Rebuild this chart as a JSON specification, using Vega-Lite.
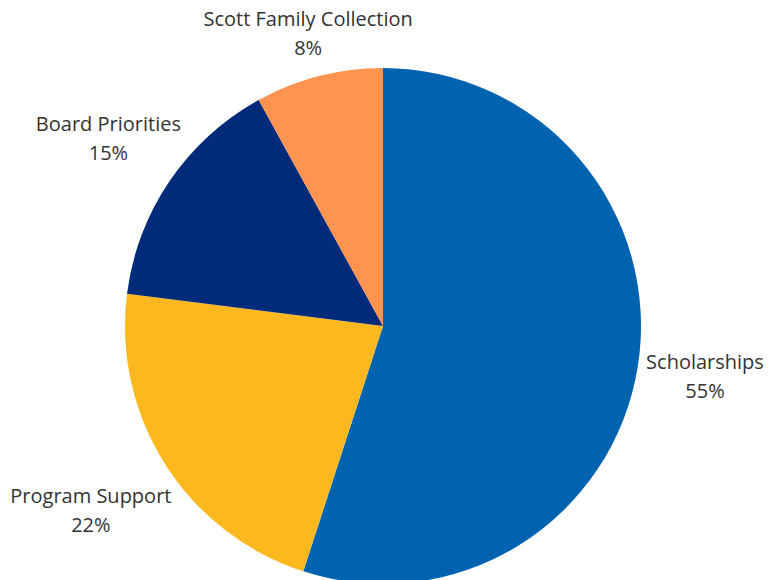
{
  "$schema": "https://vega.github.io/schema/vega-lite/v6.json",
  "width": 766,
  "height": 652,
  "autosize": {"type": "none"},
  "padding": 0,
  "background": "white",
  "view": {"stroke": null},
  "data": {
    "values": [
      {"category": "Scholarships", "value": 55, "rank": 1},
      {"category": "Program Support", "value": 22, "rank": 2},
      {"category": "Board Priorities", "value": 15, "rank": 3},
      {"category": "Scott Family Collection", "value": 8, "rank": 4}
    ]
  },
  "transform": [
    {"calculate": "datum.category + '\\n' + datum.value + '%'", "as": "label"},
    {"stack": "value", "groupby": [], "sort": [{"field": "rank", "order": "ascending"}], "as": ["v0", "v1"]},
    {"calculate": "(datum.v0 + datum.v1) / 2", "as": "vmid"}
  ],
  "layer": [
    {
      "mark": {"type": "arc", "radius": 258, "stroke": null},
      "encoding": {
        "theta": {"field": "v0", "type": "quantitative", "scale": {"domain": [0, 100]}},
        "theta2": {"field": "v1"},
        "color": {
          "field": "category",
          "type": "nominal",
          "scale": {
            "domain": ["Scholarships", "Program Support", "Board Priorities", "Scott Family Collection"],
            "range": ["#0063AF", "#FDB71F", "#002A7A", "#FF9350"]
          },
          "legend": null
        }
      }
    },
    {
      "transform": [{"filter": "datum.category === 'Scholarships'"}],
      "mark": {"type": "text", "radius": 326, "dy": -14, "font": "Open Sans", "fontSize": 20, "color": "#333333", "lineBreak": "\n", "lineHeight": 29, "align": "center", "baseline": "middle"},
      "encoding": {"theta": {"field": "vmid", "type": "quantitative", "scale": {"domain": [0, 100]}}, "text": {"field": "label", "type": "nominal"}}
    },
    {
      "transform": [{"filter": "datum.category === 'Program Support'"}],
      "mark": {"type": "text", "radius": 346, "dy": -14, "font": "Open Sans", "fontSize": 20, "color": "#333333", "lineBreak": "\n", "lineHeight": 29, "align": "center", "baseline": "middle"},
      "encoding": {"theta": {"field": "vmid", "type": "quantitative", "scale": {"domain": [0, 100]}}, "text": {"field": "label", "type": "nominal"}}
    },
    {
      "transform": [{"filter": "datum.category === 'Board Priorities'"}],
      "mark": {"type": "text", "radius": 332, "dy": -14, "font": "Open Sans", "fontSize": 20, "color": "#333333", "lineBreak": "\n", "lineHeight": 29, "align": "center", "baseline": "middle"},
      "encoding": {"theta": {"field": "vmid", "type": "quantitative", "scale": {"domain": [0, 100]}}, "text": {"field": "label", "type": "nominal"}}
    },
    {
      "transform": [{"filter": "datum.category === 'Scott Family Collection'"}],
      "mark": {"type": "text", "radius": 301, "dy": -14, "font": "Open Sans", "fontSize": 20, "color": "#333333", "lineBreak": "\n", "lineHeight": 29, "align": "center", "baseline": "middle"},
      "encoding": {"theta": {"field": "vmid", "type": "quantitative", "scale": {"domain": [0, 100]}}, "text": {"field": "label", "type": "nominal"}}
    }
  ]
}
